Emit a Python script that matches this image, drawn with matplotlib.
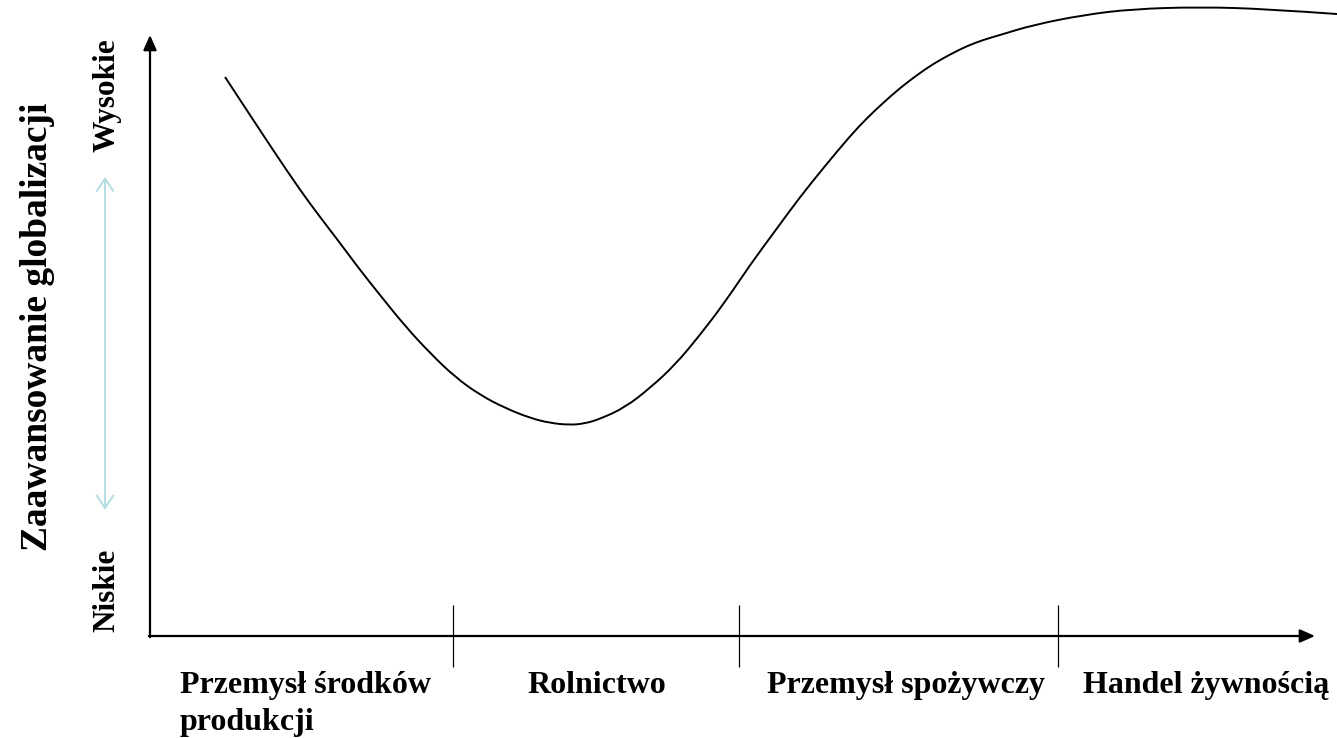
#!/bin/py
#
# globalisation level along the food chain sectors
#
import numpy as np
import matplotlib
matplotlib.use('Agg')
import matplotlib.pyplot as plt
from matplotlib.path import Path
from matplotlib.patches import PathPatch

plt.rcParams['font.family'] = ['Liberation Serif', 'DejaVu Serif']

# curve (x: position along chain 0-100, y: level 0-100)
chain_x = [6.44, 8.58, 10.73, 12.88, 14.59, 16.31, 18.03, 19.74, 21.89, 24.03,
           26.18, 28.33, 30.47, 32.62, 34.33, 36.05, 37.34, 38.63, 40.77, 42.92,
           45.06, 47.21, 49.36, 51.50, 53.65, 55.79, 57.94, 60.09, 61.55, 62.92,
           64.38, 65.84, 67.21, 68.67, 70.13, 71.50, 72.96, 75.79, 80.09, 84.38,
           90.13, 95.88, 101.89]
glob_level = [93.01, 86.69, 80.37, 74.21, 69.72, 65.39, 60.90, 56.74, 51.58, 47.09,
              43.09, 40.10, 37.94, 36.27, 35.44, 35.11, 35.36, 36.11, 38.02, 41.26,
              45.09, 50.08, 55.57, 61.73, 67.39, 73.04, 78.20, 83.19, 86.19, 88.69,
              91.18, 93.34, 95.17, 96.76, 98.17, 99.17, 100.00, 101.66, 103.33, 104.33,
              104.66, 104.33, 103.49]

# sector boundaries on the x axis
boundaries = [26.0, 50.6, 77.9]
sectors = ['Przemysł środków\nprodukcji', 'Rolnictwo',
           'Przemysł spożywczy', 'Handel żywnością']
sector_x = [180, 597, 767, 1083]   # label anchors in pixels
sector_ha = ['left', 'center', 'left', 'left']

W, H = 1337, 738


def smooth_path(xs, ys):
    # quadratic bezier through midpoints, just for a smooth stroke
    pts = list(zip(xs, ys))
    verts = [pts[0]]
    codes = [Path.MOVETO]
    for i in range(1, len(pts) - 1):
        if i == len(pts) - 2:
            end = pts[-1]
        else:
            end = ((pts[i][0] + pts[i + 1][0]) / 2, (pts[i][1] + pts[i + 1][1]) / 2)
        verts += [pts[i], end]
        codes += [Path.CURVE3, Path.CURVE3]
    return Path(verts, codes)


def main():
    fig = plt.figure(figsize=(W / 100, H / 100), dpi=100)
    ax = fig.add_axes([0, 0, 1, 1])
    ax.set_xlim(-150 / 11.65, (W - 150) / 11.65)
    ax.set_ylim((636 - H) / 6.01, 636 / 6.01)
    ax.axis('off')

    # axes with arrow heads
    ax.annotate('', xy=(0, 100), xytext=(0, -0.2),
                arrowprops=dict(arrowstyle='-|>,head_length=0.9,head_width=0.4',
                                color='black', lw=1.6, shrinkA=0, shrinkB=0))
    ax.annotate('', xy=(100, 0), xytext=(-0.1, 0),
                arrowprops=dict(arrowstyle='-|>,head_length=0.9,head_width=0.4',
                                color='black', lw=1.6, shrinkA=0, shrinkB=0))

    # sector separators
    ax.vlines(boundaries, -5.2, 5.2, color='black', lw=0.9)

    # curve
    ax.add_patch(PathPatch(smooth_path(chain_x, glob_level), fill=False,
                           edgecolor='black', lw=1.4, clip_on=False))

    # light blue double arrow
    ax.annotate('', xy=(-3.86, 76.4), xytext=(-3.86, 21.0),
                arrowprops=dict(arrowstyle='<->,head_length=0.9,head_width=0.6',
                                color='#b3dde2', lw=1.4, shrinkA=0, shrinkB=0))

    # y axis texts
    fig.text(38 / W, 1 - 327 / H, 'Zaawansowanie globalizacji', rotation=90,
             ha='center', va='center', fontsize=27, fontweight='bold')
    fig.text(107 / W, 1 - 95 / H, 'Wysokie', rotation=90,
             ha='center', va='center', fontsize=22.5, fontweight='bold')
    fig.text(107 / W, 1 - 590 / H, 'Niskie', rotation=90,
             ha='center', va='center', fontsize=22.5, fontweight='bold')

    # sector labels
    for lab, px, ha in zip(sectors, sector_x, sector_ha):
        fig.text(px / W, 1 - 671 / H, lab, ha=ha, va='top',
                 fontsize=23, fontweight='bold', linespacing=1.38)

    plt.savefig('out.png', dpi=100)


main()
